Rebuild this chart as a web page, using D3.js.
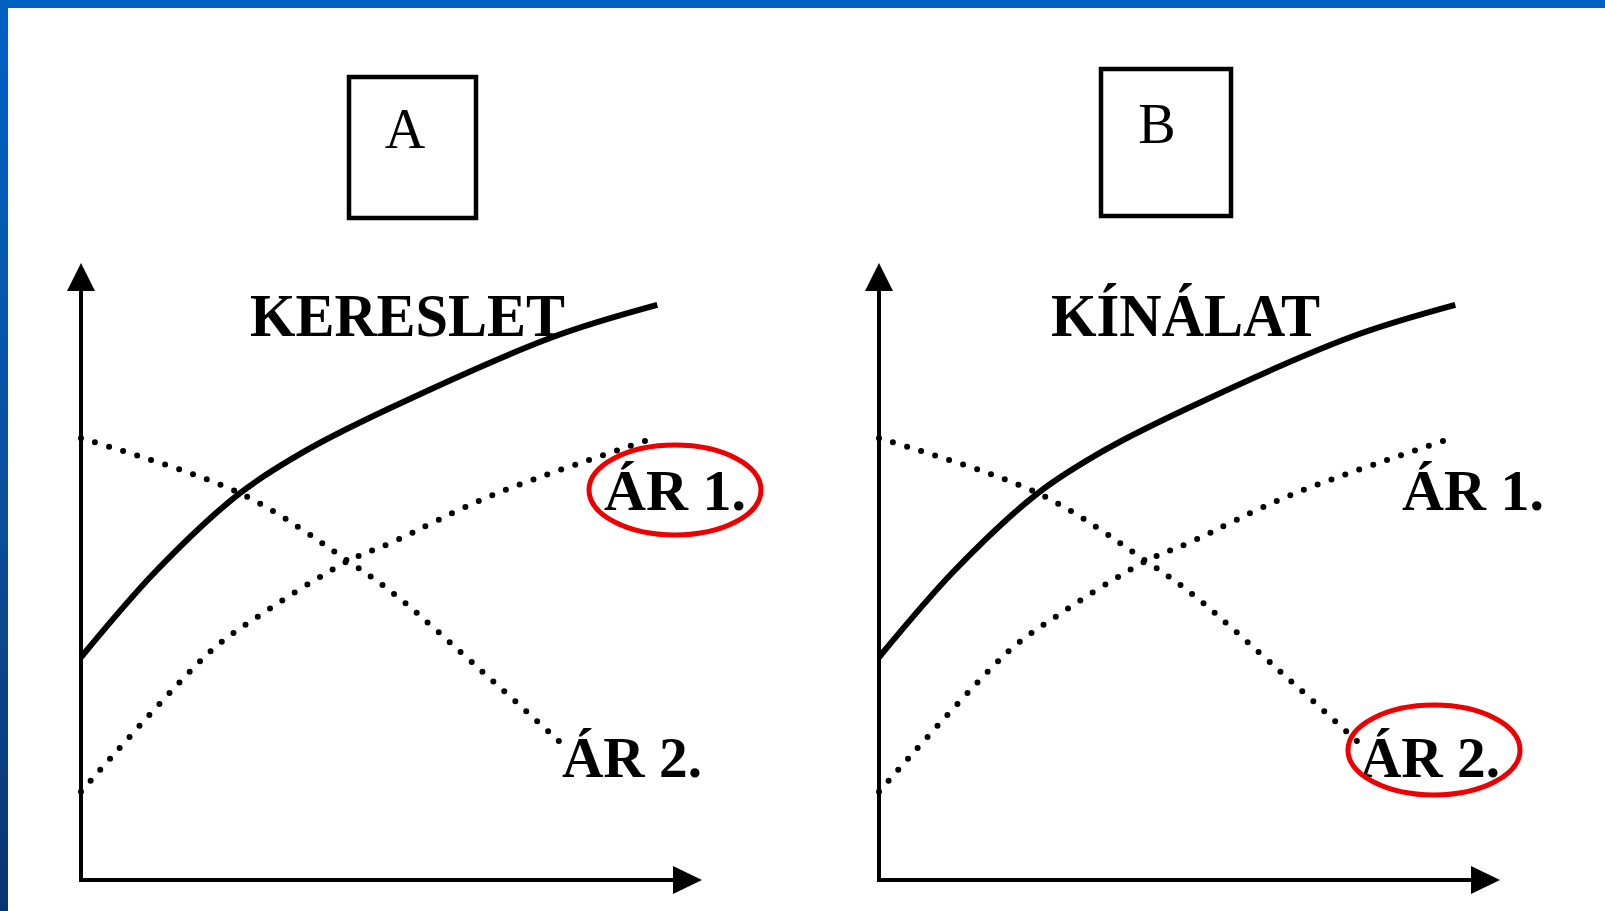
<!DOCTYPE html>
<html>
<head>
<meta charset="utf-8">
<script src="https://cdn.jsdelivr.net/npm/d3@7"></script>
<style>
  html, body { margin: 0; padding: 0; background: #ffffff; overflow: hidden; }
  svg { display: block; }
</style>
</head>
<body>
<svg id="chart" width="1605" height="911"></svg>
<script>
// ---------- DATA ----------
const panels = ["A", "B"];
const titles = ["KERESLET", "KÍNÁLAT"];
const priceLabels = ["ÁR 1.", "ÁR 2."];
const highlighted = ["ÁR 1.", "ÁR 2."];          // circled label in panel A, panel B

// solid curve (demand / supply)
const solidX = [0, 12.2, 25.6, 36.4, 49.8, 76.0, 92.8];
const solidY = [36.1, 50.2, 62.7, 69.7, 76.5, 88.0, 93.2];
// dotted falling curve (ÁR 2.)
const fallX = [0, 25.6, 43.0, 50.6, 64.7, 77.1];
const fallY = [71.6, 62.7, 51.7, 46.2, 33.7, 22.4];
// dotted rising curve (ÁR 1.)
const riseX = [0, 20.8, 28.2, 43.0, 49.8, 66.3, 91.3];
const riseY = [14.3, 37.0, 42.5, 51.7, 54.6, 62.4, 71.3];

// ---------- LAYOUT ----------
const W = 1605, H = 911;
const svg = d3.select("#chart");
const defs = svg.append("defs");
const grad = defs.append("linearGradient").attr("id", "leftGrad")
  .attr("x1", 0).attr("y1", 0).attr("x2", 0).attr("y2", 1);
grad.append("stop").attr("offset", "0%").attr("stop-color", "#0062c6");
grad.append("stop").attr("offset", "55%").attr("stop-color", "#0a4f9e");
grad.append("stop").attr("offset", "100%").attr("stop-color", "#0b3370");

svg.append("rect").attr("width", W).attr("height", H).attr("fill", "#ffffff");
svg.append("rect").attr("x", 0).attr("y", 0).attr("width", 8).attr("height", H).attr("fill", "url(#leftGrad)");
svg.append("rect").attr("x", 0).attr("y", 0).attr("width", W).attr("height", 8).attr("fill", "#0061c3");

const panelDX = 798;
const x0 = 81, xTip = 702, y0 = 880, yTip = 263;

const boxes = [
  {x: 349, y: 77, w: 127, h: 141, lx: 405, ly: 148},
  {x: 1101, y: 69, w: 130, h: 147, lx: 1157, ly: 143}
];
const titleLen = [315, 269];
const ellipses = [
  {cx: 675, cy: 490, rx: 86, ry: 45},
  {cx: 1434, cy: 750, rx: 86, ry: 45}
];

const serif = "'Liberation Serif', 'Times New Roman', serif";

panels.forEach((p, i) => {
  const dx = i * panelDX;
  const x = d3.scaleLinear().domain([0, 100]).range([x0 + dx, xTip + dx]);
  const y = d3.scaleLinear().domain([0, 100]).range([y0, yTip]);
  const g = svg.append("g");

  // box with panel letter
  const b = boxes[i];
  g.append("rect").attr("x", b.x).attr("y", b.y).attr("width", b.w).attr("height", b.h)
    .attr("fill", "none").attr("stroke", "#000").attr("stroke-width", 4.5);
  g.append("text").attr("x", b.lx).attr("y", b.ly).attr("text-anchor", "middle")
    .attr("font-family", serif).attr("font-size", 56).attr("fill", "#000").text(p);

  // axes
  g.append("line").attr("x1", x(0)).attr("y1", y(0)).attr("x2", x(0)).attr("y2", y(100) + 20)
    .attr("stroke", "#000").attr("stroke-width", 4);
  g.append("line").attr("x1", x(0) - 2).attr("y1", y(0)).attr("x2", x(100) - 20).attr("y2", y(0))
    .attr("stroke", "#000").attr("stroke-width", 4);
  g.append("path").attr("d", `M${x(0)},${y(100)} L${x(0) - 14},${y(100) + 28} L${x(0) + 14},${y(100) + 28} Z`).attr("fill", "#000");
  g.append("path").attr("d", `M${x(100)},${y(0)} L${x(100) - 29},${y(0) - 14} L${x(100) - 29},${y(0) + 14} Z`).attr("fill", "#000");

  const line = d3.line().x(d => x(d[0])).y(d => y(d[1])).curve(d3.curveCatmullRom.alpha(0.5));

  // dotted curves
  const fall = fallX.map((v, k) => [v, fallY[k]]);
  const rise = riseX.map((v, k) => [v, riseY[k]]);
  [fall, rise].forEach(data => {
    g.append("path").attr("d", line(data)).attr("fill", "none").attr("stroke", "#000")
      .attr("stroke-width", 6).attr("stroke-linecap", "round").attr("stroke-dasharray", "0 14.7");
  });

  // solid curve
  const solid = solidX.map((v, k) => [v, solidY[k]]);
  g.append("path").attr("d", line(solid)).attr("fill", "none").attr("stroke", "#000")
    .attr("stroke-width", 6).attr("stroke-linecap", "butt");

  // title
  g.append("text").attr("x", 250 + dx + (i ? 3 : 0)).attr("y", 336)
    .attr("font-family", serif).attr("font-weight", "bold").attr("font-size", 61)
    .attr("textLength", titleLen[i]).attr("lengthAdjust", "spacingAndGlyphs")
    .attr("fill", "#000").text(titles[i]);

  // price labels
  g.append("text").attr("x", 604 + dx).attr("y", 510)
    .attr("font-family", serif).attr("font-weight", "bold").attr("font-size", 57)
    .attr("textLength", 142).attr("lengthAdjust", "spacingAndGlyphs")
    .attr("fill", "#000").text(priceLabels[0]);
  g.append("text").attr("x", 562 + dx).attr("y", 777)
    .attr("font-family", serif).attr("font-weight", "bold").attr("font-size", 57)
    .attr("textLength", 140).attr("lengthAdjust", "spacingAndGlyphs")
    .attr("fill", "#000").text(priceLabels[1]);

  // highlight ellipse
  const e = ellipses[i];
  g.append("ellipse").attr("cx", e.cx).attr("cy", e.cy).attr("rx", e.rx).attr("ry", e.ry)
    .attr("fill", "none").attr("stroke", "#ee0000").attr("stroke-width", 5)
    .attr("data-label", highlighted[i]);
});
</script>
</body>
</html>
